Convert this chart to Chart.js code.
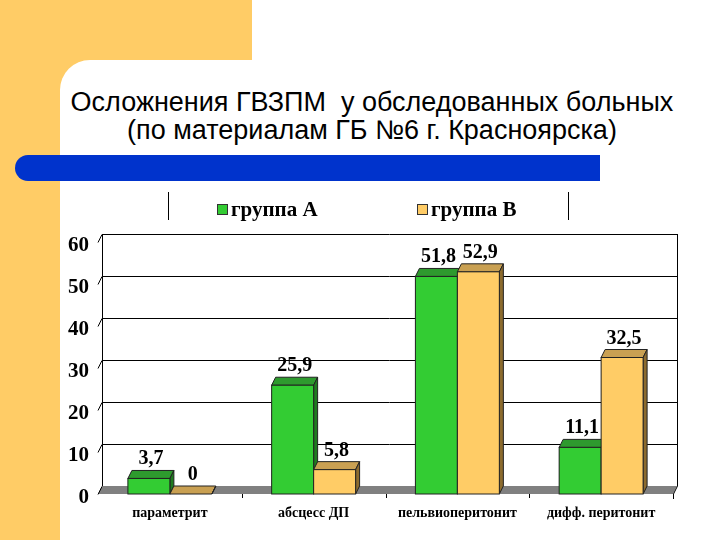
<!DOCTYPE html>
<html>
<head>
<meta charset="utf-8">
<script src="https://cdn.jsdelivr.net/npm/chart.js@4/dist/chart.umd.min.js"></script>
<style>
  html, body { margin: 0; padding: 0; }
  body { width: 720px; height: 540px; position: relative; overflow: hidden; background: #fff; }
  .deco { position: absolute; }
  #title {
    position: absolute; left: 52px; width: 640px; top: 88px;
    text-align: center; font-family: "Liberation Sans", Arial, sans-serif;
    font-size: 27px; line-height: 28px; color: #000; white-space: nowrap;
  }
  #chart { position: absolute; left: 0; top: 0; }
</style>
</head>
<body>
<div class="deco" style="left:0;top:0;width:252px;height:60px;background:#FFCC66"></div>
<div class="deco" style="left:0;top:0;width:60px;height:540px;background:#FFCC66"></div>
<div class="deco" style="left:60px;top:60px;width:30px;height:30px;background:#FFCC66"></div>
<div class="deco" style="left:60px;top:60px;width:660px;height:480px;background:#fff;border-top-left-radius:30px"></div>
<div class="deco" style="left:15px;top:155px;width:585px;height:26px;background:#0033CC;border-radius:13px 0 0 13px"></div>
<div id="title">Осложнения ГВЗПМ&nbsp; у обследованных больных<br>(по материалам ГБ №6 г. Красноярска)</div>
<canvas id="chart" width="720" height="540"></canvas>
<script>
const categories = ["параметрит", "абсцесс ДП", "пельвиоперитонит", "дифф. перитонит"];
const groupA = [3.7, 25.9, 51.8, 11.1];
const groupB = [0, 5.8, 52.9, 32.5];
const seriesNames = ["группа А", "группа В"];
const yMax = 60;
const yStep = 10;

const faceColors = ["#33CC33", "#FFCC66"];
const topColors = ["#2E9A2E", "#C9A052"];
const sideColors = ["#1F7A1F", "#8C6B2E"];

const DX = 4, DY = 8;
const serif = "'Liberation Serif', 'Times New Roman', serif";

const decor3d = {
  id: 'decor3d',
  beforeDatasetsDraw(chart) {
    const { ctx, chartArea: a, scales: { y } } = chart;
    ctx.save();
    // floor
    ctx.fillStyle = '#808080';
    ctx.beginPath();
    ctx.moveTo(a.left, a.bottom);
    ctx.lineTo(a.right, a.bottom);
    ctx.lineTo(a.right + DX, a.bottom - DY);
    ctx.lineTo(a.left + DX, a.bottom - DY);
    ctx.closePath();
    ctx.fill();
    // back wall grid
    ctx.strokeStyle = '#000';
    ctx.lineWidth = 1;
    y.ticks.forEach(t => {
      const py = Math.round(y.getPixelForValue(t.value) - DY) + 0.5;
      if (t.value > 0) {
        ctx.beginPath();
        ctx.moveTo(a.left + DX, py);
        ctx.lineTo(a.right + DX, py);
        ctx.stroke();
      }
      ctx.beginPath();
      ctx.moveTo(a.left + DX, py);
      ctx.lineTo(a.left, py + DY);
      ctx.stroke();
    });
    ctx.beginPath();
    ctx.moveTo(a.left + DX + 0.5, a.top - DY);
    ctx.lineTo(a.left + DX + 0.5, a.bottom - DY);
    ctx.moveTo(a.right + DX + 0.5, a.top - DY);
    ctx.lineTo(a.right + DX + 0.5, a.bottom - DY);
    ctx.lineTo(a.right + 0.5, a.bottom);
    ctx.lineTo(a.right + 0.5, a.bottom + 5);
    ctx.stroke();
    // category tick marks
    const n = categories.length;
    const w = (a.right - a.left) / n;
    ctx.beginPath();
    for (let i = 1; i < n; i++) {
      const px = Math.round(a.left + w * i) + 0.5;
      ctx.moveTo(px, a.bottom);
      ctx.lineTo(px, a.bottom + 4);
    }
    ctx.stroke();
    ctx.restore();
  },
  afterDatasetsDraw(chart) {
    const { ctx } = chart;
    const metas = chart.data.datasets.map((d, i) => chart.getDatasetMeta(i));
    ctx.save();
    ctx.lineWidth = 1;
    ctx.strokeStyle = '#222';
    categories.forEach((c, i) => {
      metas.forEach((m, d) => {
        const b = m.data[i];
        const l = b.x - b.width / 2, r = b.x + b.width / 2;
        const t = b.y, base = b.base;
        // top face
        ctx.fillStyle = topColors[d];
        ctx.beginPath();
        ctx.moveTo(l, t); ctx.lineTo(r, t);
        ctx.lineTo(r + DX, t - DY); ctx.lineTo(l + DX, t - DY);
        ctx.closePath(); ctx.fill(); ctx.stroke();
        // side face
        ctx.fillStyle = sideColors[d];
        ctx.beginPath();
        ctx.moveTo(r, t); ctx.lineTo(r + DX, t - DY);
        ctx.lineTo(r + DX, base - DY); ctx.lineTo(r, base);
        ctx.closePath(); ctx.fill(); ctx.stroke();
        // front face
        if (base - t > 0) {
          ctx.fillStyle = faceColors[d];
          ctx.fillRect(l, t, r - l, base - t);
          ctx.strokeRect(l, t, r - l, base - t);
        }
      });
    });
    // value labels
    ctx.fillStyle = '#000';
    ctx.font = 'bold 20px ' + serif;
    ctx.textAlign = 'center';
    ctx.textBaseline = 'alphabetic';
    metas.forEach((m, d) => {
      m.data.forEach((b, i) => {
        const v = chart.data.datasets[d].data[i];
        ctx.fillText(String(v).replace('.', ','), b.x + DX / 2, b.y - DY - 6);
      });
    });
    // legend
    ctx.strokeStyle = '#000';
    ctx.beginPath();
    ctx.moveTo(168.5, 192); ctx.lineTo(168.5, 220);
    ctx.moveTo(568.5, 192); ctx.lineTo(568.5, 220);
    ctx.stroke();
    ctx.textAlign = 'left';
    ctx.font = 'bold 21px ' + serif;
    chart.data.datasets.forEach((ds, d) => {
      const x0 = 217 + d * 200;
      ctx.fillStyle = faceColors[d];
      ctx.fillRect(x0, 204, 11, 11);
      ctx.strokeStyle = '#333';
      ctx.strokeRect(x0 + 0.5, 204.5, 10, 10);
      ctx.fillStyle = '#000';
      ctx.fillText(ds.label, x0 + 14, 216);
    });
    ctx.restore();
  }
};

new Chart(document.getElementById('chart'), {
  type: 'bar',
  data: {
    labels: categories,
    datasets: [
      { label: seriesNames[0], data: groupA, backgroundColor: faceColors[0] },
      { label: seriesNames[1], data: groupB, backgroundColor: faceColors[1] }
    ]
  },
  options: {
    responsive: false,
    animation: false,
    layout: { padding: { left: 58, top: 242, right: 47, bottom: 0 } },
    plugins: { legend: { display: false }, tooltip: { enabled: false } },
    datasets: { bar: { categoryPercentage: 0.584, barPercentage: 1 } },
    scales: {
      x: {
        grid: { display: false, drawTicks: false },
        border: { display: false },
        ticks: { color: '#000', padding: 11, font: { family: serif, size: 14, weight: 'bold' } },
        afterFit(s) { s.height = 46; }
      },
      y: {
        min: 0, max: yMax,
        grid: { display: false, drawTicks: false },
        border: { display: false },
        ticks: { stepSize: yStep, color: '#000', padding: 9, labelOffset: 4, font: { family: serif, size: 21, weight: 'bold' } },
        afterFit(s) { s.width = 40; }
      }
    }
  },
  plugins: [decor3d]
});
</script>
</body>
</html>
